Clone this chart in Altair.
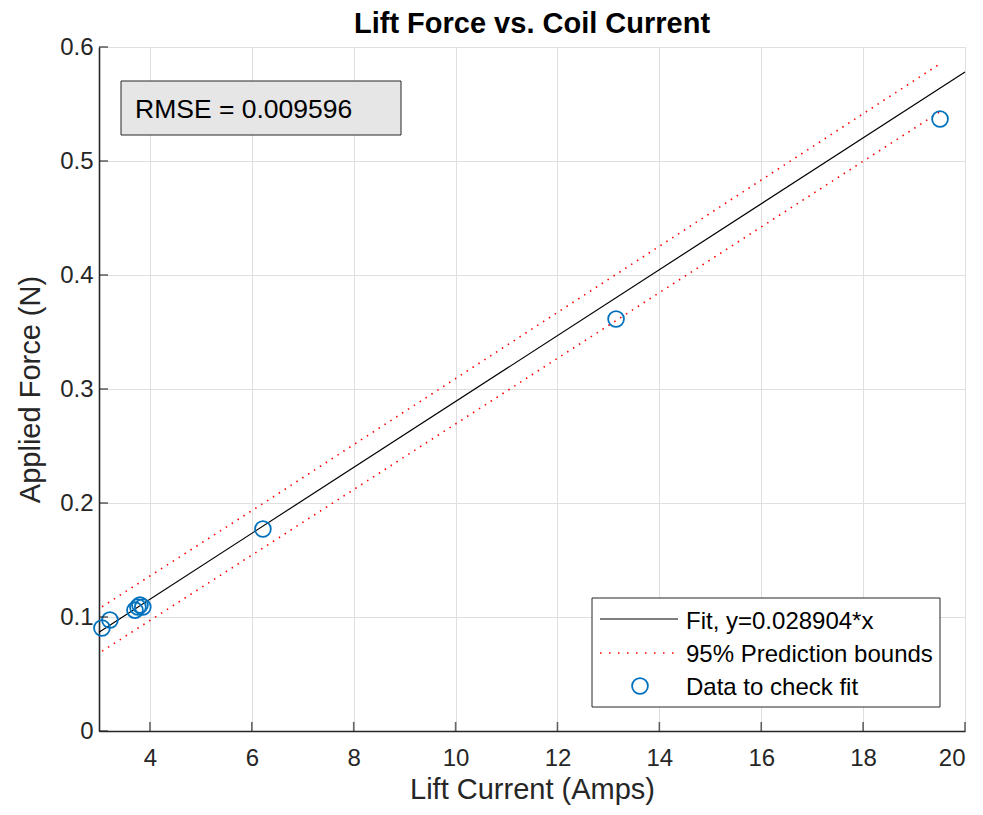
import altair as alt
import pandas as pd

FONT = "Liberation Sans"

# ---- data ----
x_data = [3.058, 3.215, 3.706, 3.764, 3.804, 3.86, 6.218, 13.15, 19.51]
y_data = [0.0904, 0.0974, 0.1060, 0.1088, 0.1105, 0.1088, 0.1772, 0.3614, 0.5368]

fit_x = [3.0, 20.0]
fit_y = [0.086712, 0.57808]

bound_x = [3.06, 6.2, 13.15, 19.5]
upper_y = [0.109, 0.199, 0.4005, 0.585]
lower_y = [0.070, 0.160, 0.360, 0.543]

x_ticks = [4, 6, 8, 10, 12, 14, 16, 18, 20]
y_ticks = [0, 0.1, 0.2, 0.3, 0.4, 0.5, 0.6]

title_text = "Lift Force vs. Coil Current"
x_title = "Lift Current (Amps)"
y_title = "Applied Force (N)"
legend_labels = ["Fit, y=0.028904*x", "95% Prediction bounds", "Data to check fit"]
rmse_text = "RMSE = 0.009596"

W, H = 866, 684

pts = pd.DataFrame({"x": x_data, "y": y_data})
fit = pd.DataFrame({"x": fit_x, "y": fit_y})
bounds = pd.DataFrame({
    "x": bound_x + bound_x,
    "y": upper_y + lower_y,
    "s": ["upper"] * len(bound_x) + ["lower"] * len(bound_x),
})
xt = pd.DataFrame({"x": x_ticks})
yt = pd.DataFrame({"y": y_ticks})
one = pd.DataFrame({"k": [0]})

xscale = alt.Scale(domain=[3, 20], nice=False, zero=False)
yscale = alt.Scale(domain=[0, 0.6], nice=False)

xaxis = alt.Axis(values=x_ticks, title=x_title, labelPadding=15, titlePadding=5,
                 format="d", grid=True)
yaxis = alt.Axis(values=y_ticks, title=y_title, labelPadding=6, titlePadding=14,
                 format=".1~f", grid=True)

X = alt.X("x:Q", scale=xscale, axis=xaxis)
Y = alt.Y("y:Q", scale=yscale, axis=yaxis)

fit_line = alt.Chart(fit).mark_line(color="black", strokeWidth=1.2).encode(x=X, y=Y)

bound_lines = alt.Chart(bounds).mark_line(
    color="#FF0000", strokeWidth=1.6, strokeDash=[1.5, 5.5]
).encode(x=X, y=Y, detail="s:N")

points = alt.Chart(pts).mark_point(
    shape="circle", size=250, filled=False, color="#0072BD", strokeWidth=1.8, opacity=1
).encode(x=X, y=Y)

# inward ticks
xticks_in = alt.Chart(xt).mark_tick(
    color="#262626", size=9, thickness=1.6, orient="vertical"
).encode(x=X, y=alt.value(H - 4.5))
yticks_in = alt.Chart(yt).mark_tick(
    color="#262626", size=9, thickness=1.6, orient="horizontal"
).encode(y=Y, x=alt.value(4.5))

# RMSE box
rmse_box = alt.Chart(one).mark_rect(
    fill="#E6E6E6", stroke="#262626", strokeWidth=1
).encode(x=alt.value(22), x2=alt.value(302), y=alt.value(34), y2=alt.value(88))
rmse_lbl = alt.Chart(one).mark_text(
    text=rmse_text, align="left", baseline="middle", font=FONT, fontSize=26.5, color="black"
).encode(x=alt.value(36), y=alt.value(63))

# legend
lg_box = alt.Chart(one).mark_rect(
    fill="white", stroke="#262626", strokeWidth=1
).encode(x=alt.value(493), x2=alt.value(841), y=alt.value(551), y2=alt.value(660))
lg_fit = alt.Chart(one).mark_rule(color="black", strokeWidth=1.2).encode(
    x=alt.value(501), x2=alt.value(579), y=alt.value(572))
lg_bnd = alt.Chart(one).mark_rule(color="#FF0000", strokeWidth=1.6, strokeDash=[1.5, 7.5]).encode(
    x=alt.value(501), x2=alt.value(579), y=alt.value(606))
lg_pt = alt.Chart(one).mark_point(
    shape="circle", size=250, filled=False, color="#0072BD", strokeWidth=1.8, opacity=1
).encode(x=alt.value(541), y=alt.value(639))
lg_texts = [
    alt.Chart(one).mark_text(
        text=t, align="left", baseline="middle", font=FONT, fontSize=24, color="black"
    ).encode(x=alt.value(587), y=alt.value(yy))
    for t, yy in zip(legend_labels, [575, 608, 641])
]

chart = alt.layer(
    fit_line, bound_lines, points, xticks_in, yticks_in,
    rmse_box, rmse_lbl, lg_box, lg_fit, lg_bnd, lg_pt, *lg_texts
).properties(
    width=W, height=H,
    title=alt.TitleParams(title_text, anchor="middle"),
    autosize=alt.AutoSizeParams(type="none"),
    padding={"left": 91, "top": 39, "right": 8, "bottom": 75},
).configure_view(
    stroke="#DCDCDC", strokeWidth=1
).configure_axis(
    labelFont=FONT, labelFontSize=24, labelColor="#262626",
    titleFont=FONT, titleFontSize=29, titleFontWeight="normal", titleColor="#262626",
    gridColor="#DFDFDF", gridWidth=1,
    domainColor="#262626", domainWidth=1.6,
    ticks=False,
).configure_title(
    font=FONT, fontSize=29, fontWeight="bold", color="black", offset=-4
)

chart.save("out.html", embed_options={"renderer": "svg", "actions": False})
